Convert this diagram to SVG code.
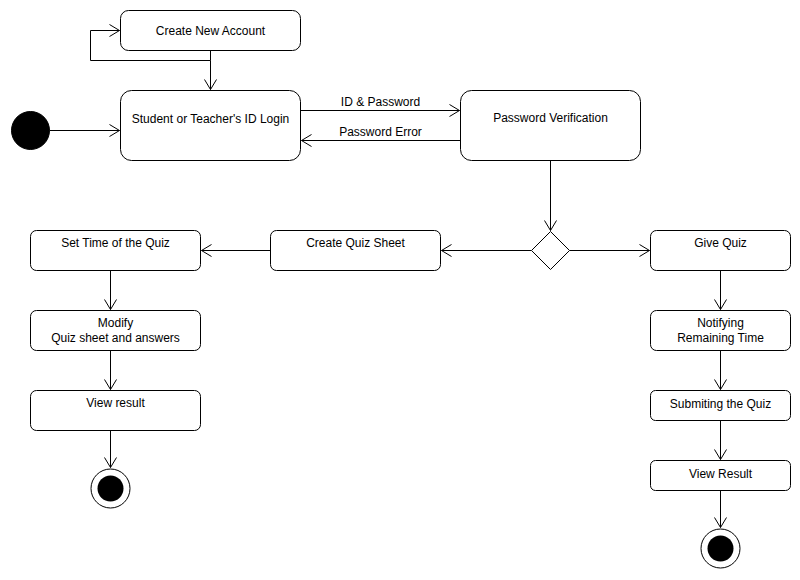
<svg xmlns="http://www.w3.org/2000/svg" width="800" height="580" viewBox="0 0 800 580">
  <style>
    .box { fill: #ffffff; stroke: #000000; stroke-width: 1; }
    .edge { fill: none; stroke: #000000; stroke-width: 1; }
    .lbl { font-family: "Liberation Sans", Arial, Helvetica, sans-serif; font-size: 12px; fill: #000000; text-anchor: middle; }
  </style>
  <defs>
    <marker id="open" viewBox="0 0 12 14" refX="11" refY="7" markerWidth="12" markerHeight="14" markerUnits="userSpaceOnUse" orient="auto">
      <path d="M1,1 L11,7 L1,13" fill="none" stroke="#000" stroke-width="1"/>
    </marker>
  </defs>
  <rect width="800" height="580" fill="#ffffff"/>
  <g transform="translate(0.5,0.5)">
    <g id="connectors">
      <path class="edge" d="M210,50 V60 H90 V30 H119" marker-end="url(#open)"/>
      <path class="edge" d="M210,60 V89" marker-end="url(#open)"/>
      <path class="edge" d="M49,130 H119" marker-end="url(#open)"/>
      <path class="edge" d="M300,110 H459" marker-end="url(#open)"/>
      <text class="lbl" x="380" y="105">ID &amp; Password</text>
      <path class="edge" d="M460,140 H301" marker-end="url(#open)"/>
      <text class="lbl" x="380" y="135">Password Error</text>
      <path class="edge" d="M550,160 V230" marker-end="url(#open)"/>
      <path class="edge" d="M531,250 H441" marker-end="url(#open)"/>
      <path class="edge" d="M569,250 H649" marker-end="url(#open)"/>
      <path class="edge" d="M270,250 H201" marker-end="url(#open)"/>
      <path class="edge" d="M110,270 V309" marker-end="url(#open)"/>
      <path class="edge" d="M110,350 V389" marker-end="url(#open)"/>
      <path class="edge" d="M110,430 V467" marker-end="url(#open)"/>
      <path class="edge" d="M720,270 V309" marker-end="url(#open)"/>
      <path class="edge" d="M720,350 V389" marker-end="url(#open)"/>
      <path class="edge" d="M720,420 V459" marker-end="url(#open)"/>
      <path class="edge" d="M720,490 V527" marker-end="url(#open)"/>
    </g>

    <g id="start">
      <circle cx="30" cy="130" r="19" fill="#000" stroke="#000"/>
    </g>
    <g id="create-account">
      <rect class="box" x="120" y="10" width="180" height="40" rx="8"/>
      <text class="lbl" x="210" y="34">Create New Account</text>
    </g>
    <g id="login">
      <rect class="box" x="120" y="90" width="180" height="70" rx="11"/>
      <text class="lbl" x="210" y="122">Student or Teacher's ID Login</text>
    </g>
    <g id="verify">
      <rect class="box" x="460" y="90" width="180" height="70" rx="11"/>
      <text class="lbl" x="550" y="121">Password Verification</text>
    </g>
    <g id="decision">
      <path class="box" d="M550,231 L569,250 L550,269 L531,250 Z"/>
    </g>
    <g id="create-quiz">
      <rect class="box" x="270" y="230" width="170" height="40" rx="6"/>
      <text class="lbl" x="355" y="246">Create Quiz Sheet</text>
    </g>
    <g id="set-time">
      <rect class="box" x="30" y="230" width="170" height="40" rx="6"/>
      <text class="lbl" x="115" y="246">Set Time of the Quiz</text>
    </g>
    <g id="modify">
      <rect class="box" x="30" y="310" width="170" height="40" rx="6"/>
      <text class="lbl" x="115" y="326">Modify</text>
      <text class="lbl" x="115" y="341">Quiz sheet and answers</text>
    </g>
    <g id="view-result-teacher">
      <rect class="box" x="30" y="390" width="170" height="40" rx="6"/>
      <text class="lbl" x="115" y="406">View result</text>
    </g>
    <g id="end-teacher">
      <circle cx="110" cy="488" r="19.5" fill="#fff" stroke="#000"/>
      <circle cx="110" cy="488" r="13" fill="#000"/>
    </g>
    <g id="give-quiz">
      <rect class="box" x="650" y="230" width="140" height="40" rx="6"/>
      <text class="lbl" x="720" y="246">Give Quiz</text>
    </g>
    <g id="notify">
      <rect class="box" x="650" y="310" width="140" height="40" rx="6"/>
      <text class="lbl" x="720" y="326">Notifying</text>
      <text class="lbl" x="720" y="341">Remaining Time</text>
    </g>
    <g id="submit">
      <rect class="box" x="650" y="390" width="140" height="30" rx="5"/>
      <text class="lbl" x="720" y="407">Submiting the Quiz</text>
    </g>
    <g id="view-result-student">
      <rect class="box" x="650" y="460" width="140" height="30" rx="5"/>
      <text class="lbl" x="720" y="477">View Result</text>
    </g>
    <g id="end-student">
      <circle cx="720" cy="548" r="19.5" fill="#fff" stroke="#000"/>
      <circle cx="720" cy="548" r="13" fill="#000"/>
    </g>
  </g>
</svg>
